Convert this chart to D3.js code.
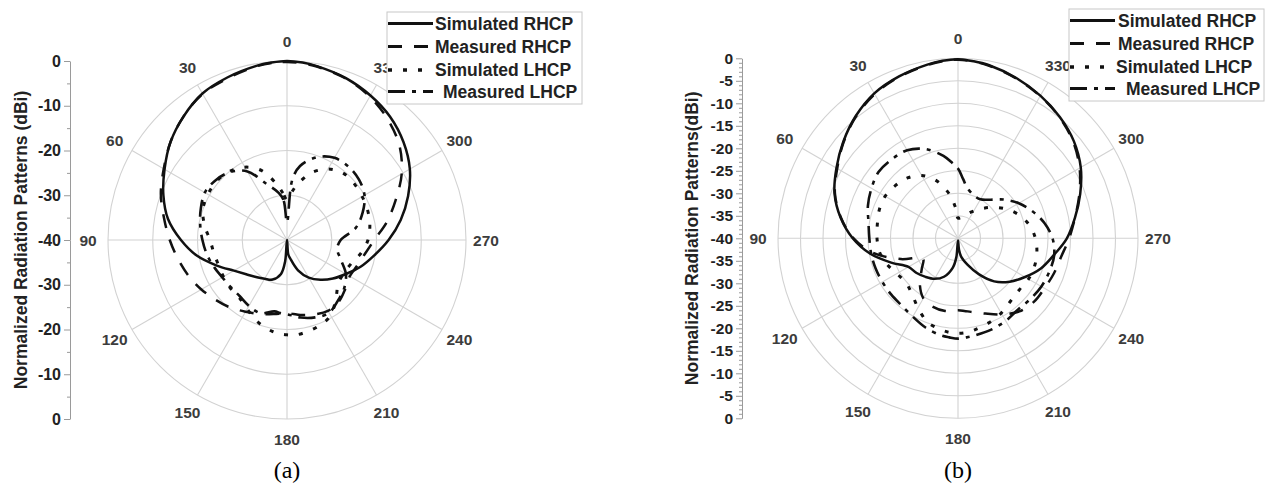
<!DOCTYPE html>
<html>
<head>
<meta charset="utf-8">
<script src="https://cdn.jsdelivr.net/npm/d3@7"></script>
<style>
  body { margin: 0; background: #fff; }
  svg { display: block; }
</style>
</head>
<body>
<svg id="chart" width="1267" height="487"></svg>
<script>
// Pattern cut angles in degrees, counter-clockwise from boresight (top)
const angles = [0, 5, 10, 20, 30, 40, 50, 60, 70, 80, 90, 100, 110, 120, 130, 140, 150, 160, 170, 175,
                180, 185, 190, 200, 210, 220, 230, 240, 250, 260, 270, 280, 290, 300, 310, 320, 330, 340, 350, 355];

// (a) normalized gain, dB
const simRHCP_a  = [0, -0.2, -0.5, -1.3, -2.2, -4.0, -6.0, -8.4, -10.6, -13.0, -16.3, -19.6, -23.3, -26.3, -28.1, -29.2, -30.0, -30.6, -32.3, -35.2,
                    -40, -36.8, -35.8, -32.8, -30.3, -28.4, -26.6, -24.8, -22.5, -20.2, -17.3, -14.2, -11.2, -8.3, -6.0, -4.1, -2.7, -1.5, -0.6, -0.2];
const measRHCP_a = [-0.2, -0.3, -0.6, -1.5, -2.3, -4.0, -6.0, -8.2, -10.0, -12.1, -13.8, -15.3, -16.6, -17.9, -19.2, -20.3, -21.5, -22.4, -23.2, -23.5,
                    -23.7, -23.4, -23.0, -22.3, -21.7, -22.0, -23.0, -23.8, -23.3, -22.3, -20.5, -17.4, -14.2, -10.4, -7.2, -4.9, -3.0, -1.6, -0.7, -0.4];
const simLHCP_a  = [-31.0, -29.5, -27.5, -23.5, -21.2, -20.0, -19.5, -19.6, -20.0, -21.3, -22.8, -23.4, -23.7, -23.6, -23.4, -23.3, -22.2, -20.6, -19.4, -19.0,
                    -18.8, -18.7, -18.9, -19.5, -20.5, -23.0, -25.0, -25.3, -24.7, -23.2, -21.9, -21.2, -20.8, -20.6, -20.4, -20.5, -21.7, -24.0, -27.6, -29.5];
const measLHCP_a = [-36.0, -31.0, -29.3, -26.7, -22.3, -20.2, -19.2, -18.8, -19.5, -20.3, -21.1, -21.8, -22.6, -23.3, -23.6, -23.6, -23.0, -22.6, -23.8, -23.6,
                    -23.4, -23.0, -22.4, -21.6, -21.2, -22.3, -23.3, -24.8, -27.2, -28.6, -28.0, -24.4, -22.0, -20.0, -19.0, -18.6, -18.8, -20.3, -23.2, -26.5];

// (b) normalized gain, dB
const simRHCP_b  = [-0.2, -0.4, -0.8, -1.7, -2.8, -4.6, -6.7, -8.8, -10.8, -13.5, -16.6, -20.2, -24.2, -27.3, -28.0, -28.8, -29.6, -30.9, -33.4, -35.8,
                    -39.5, -37.5, -35.8, -33.7, -30.8, -27.5, -25.0, -22.8, -20.4, -18.4, -15.8, -13.6, -11.1, -8.5, -6.4, -4.8, -3.4, -2.1, -0.9, -0.5];
const measRHCP_b = [-0.3, -0.5, -0.9, -1.8, -3.0, -4.7, -6.8, -9.0, -10.9, -13.6, -16.8, -21.0, -26.5, -31.0, -29.5, -26.8, -24.6, -23.8, -23.6, -23.8,
                    -24.0, -23.8, -23.4, -22.2, -20.5, -18.8, -18.0, -17.8, -17.3, -16.7, -15.3, -13.6, -11.3, -8.8, -6.6, -4.9, -3.5, -2.2, -1.0, -0.6];
const simLHCP_b  = [-35.5, -33.0, -30.4, -26.5, -23.9, -22.5, -21.8, -21.3, -21.4, -21.8, -22.0, -22.3, -23.2, -24.3, -24.8, -24.0, -22.2, -20.2, -19.3, -19.0,
                    -18.9, -19.0, -19.3, -20.0, -20.8, -21.8, -22.2, -21.9, -21.9, -22.2, -22.8, -23.8, -25.3, -27.2, -29.3, -31.3, -33.0, -34.3, -35.3, -35.5];
const measLHCP_b = [-24.5, -23.0, -21.4, -18.9, -17.4, -17.1, -17.0, -17.8, -18.7, -19.8, -20.3, -20.4, -20.5, -20.6, -20.6, -20.5, -19.9, -18.9, -18.1, -17.9,
                    -17.7, -17.9, -18.1, -18.4, -18.8, -19.3, -19.0, -18.6, -18.4, -18.3, -19.0, -20.5, -22.4, -24.4, -26.6, -28.8, -30.0, -29.8, -28.5, -26.8];

const angleTicks = [0, 30, 60, 90, 120, 150, 180, 210, 240, 270, 300, 330];
const legendLabels = ["Simulated RHCP", "Measured RHCP", "Simulated LHCP", "Measured LHCP"];
const rMin = -40, rMax = 0;

// line style per series: solid, dashed, dotted, dash-dot
const dashes = [null, "14,12", "4,11", "17,7,4,7"];
const widths = [2.5, 2.5, 3, 2.6];

const panels = [
  { cx: 287, cy: 240, R: 179, ringStep: 10, minorStep: 5, axisX: 70,
    series: [simRHCP_a, measRHCP_a, simLHCP_a, measLHCP_a],
    title: "Normalized Radiation Patterns (dBi)", titleX: 21, tickFont: 16,
    caption: "(a)", legendX: 387, legendY: 12, legendTextX: [48, 48, 48, 56] },
  { cx: 958, cy: 238.3, R: 180, ringStep: 5, minorStep: 1, axisX: 742,
    series: [simRHCP_b, measRHCP_b, simLHCP_b, measLHCP_b],
    title: "Normalized Radiation Patterns(dBi)", titleX: 692, tickFont: 15.5,
    caption: "(b)", legendX: 1069, legendY: 9, legendTextX: [49, 49, 47, 57] }
];

const svg = d3.select("#chart");
const FONT = "'Liberation Sans', Arial, sans-serif";

panels.forEach(p => {
  const g = svg.append("g");
  const r = d3.scaleLinear().domain([rMin, rMax]).range([0, p.R]);
  const plot = g.append("g").attr("transform", `translate(${p.cx},${p.cy})`);

  // rings
  const rings = d3.range(rMin + p.ringStep, rMax + 0.001, p.ringStep);
  plot.selectAll("circle.ring").data(rings).join("circle")
    .attr("r", d => r(d)).attr("fill", "none")
    .attr("stroke", "#d2d2d2").attr("stroke-width", 1.1);

  // spokes
  plot.selectAll("line.spoke").data(angleTicks).join("line")
    .attr("x1", 0).attr("y1", 0)
    .attr("x2", d => -r(rMax) * Math.sin(d * Math.PI / 180))
    .attr("y2", d => -r(rMax) * Math.cos(d * Math.PI / 180))
    .attr("stroke", "#d2d2d2").attr("stroke-width", 1.1);

  // angle labels
  const labR = p.R + 20;
  plot.selectAll("text.ang").data(angleTicks).join("text")
    .attr("x", d => -labR * Math.sin(d * Math.PI / 180))
    .attr("y", d => -labR * Math.cos(d * Math.PI / 180))
    .attr("text-anchor", "middle").attr("dy", "0.36em")
    .attr("font-family", FONT).attr("font-weight", "bold")
    .attr("font-size", 15.5).attr("fill", "#3c3c3c")
    .text(d => d);

  // pattern curves
  const line = d3.lineRadial()
    .angle(d => -d.a * Math.PI / 180)
    .radius(d => r(d.v))
    .curve(d3.curveCatmullRomClosed.alpha(0.5));

  p.series.forEach((vals, i) => {
    const pts = angles.map((a, k) => ({ a, v: vals[k] }));
    plot.append("path").datum(pts)
      .attr("d", line)
      .attr("fill", "none").attr("stroke", "#111")
      .attr("stroke-width", widths[i])
      .attr("stroke-linejoin", "round")
      .attr("stroke-dasharray", dashes[i]);
  });

  // radial scale drawn as a vertical axis on the left (upper and lower halves)
  const up = d3.scaleLinear().domain([rMin, rMax]).range([p.cy, p.cy - p.R]);
  const dn = d3.scaleLinear().domain([rMin, rMax]).range([p.cy, p.cy + p.R]);
  const majorUp = d3.range(rMin, rMax + 0.001, p.ringStep);
  const majorDn = majorUp.filter(d => d !== rMin);
  const minor = d3.range(rMin, rMax + 0.001, p.minorStep).filter(d => !majorUp.includes(d));

  [[up, majorUp], [dn, majorDn]].forEach(([sc, ticks]) => {
    const minorAx = g.append("g").attr("transform", `translate(${p.axisX},0)`)
      .call(d3.axisLeft(sc).tickValues(minor).tickSize(3).tickSizeOuter(0).tickFormat(""));
    minorAx.select(".domain").remove();
    minorAx.selectAll("line").attr("stroke", "#9a9a9a");

    const ax = g.append("g").attr("transform", `translate(${p.axisX},0)`)
      .call(d3.axisLeft(sc).tickValues(ticks).tickSize(6).tickSizeOuter(0).tickPadding(3)
        .tickFormat(d => String(d)));
    ax.select(".domain").attr("stroke", "#9a9a9a");
    ax.selectAll("line").attr("stroke", "#9a9a9a");
    ax.selectAll("text").attr("font-family", FONT).attr("font-weight", "bold")
      .attr("font-size", p.tickFont).attr("fill", "#222");
  });

  // axis title
  g.append("text")
    .attr("transform", `translate(${p.titleX},${p.cy}) rotate(-90)`)
    .attr("text-anchor", "middle").attr("dy", "0.35em")
    .attr("font-family", FONT).attr("font-weight", "bold")
    .attr("font-size", 17.5).attr("fill", "#222")
    .text(p.title);

  // legend
  const lg = g.append("g").attr("transform", `translate(${p.legendX},${p.legendY})`);
  lg.append("rect").attr("x", 0).attr("y", 0).attr("width", 195).attr("height", 92)
    .attr("fill", "#fff").attr("stroke", "#c8c8c8").attr("stroke-width", 1);
  const rowY = [11.5, 34.5, 58, 79.5];
  legendLabels.forEach((lab, i) => {
    lg.append("line").attr("x1", 1).attr("x2", 46).attr("y1", rowY[i]).attr("y2", rowY[i])
      .attr("stroke", "#111").attr("stroke-width", widths[i] + 0.3)
      .attr("stroke-dasharray", dashes[i]);
    lg.append("text").attr("x", p.legendTextX[i]).attr("y", rowY[i]).attr("dy", "0.36em")
      .attr("font-family", FONT).attr("font-weight", "bold")
      .attr("font-size", 17.5).attr("fill", "#222")
      .text(lab);
  });

  // panel caption
  g.append("text").attr("x", p.cx).attr("y", 478)
    .attr("text-anchor", "middle")
    .attr("font-family", "'Liberation Serif', 'Times New Roman', serif")
    .attr("font-size", 24).attr("fill", "#000")
    .text(p.caption);
});
</script>
</body>
</html>
